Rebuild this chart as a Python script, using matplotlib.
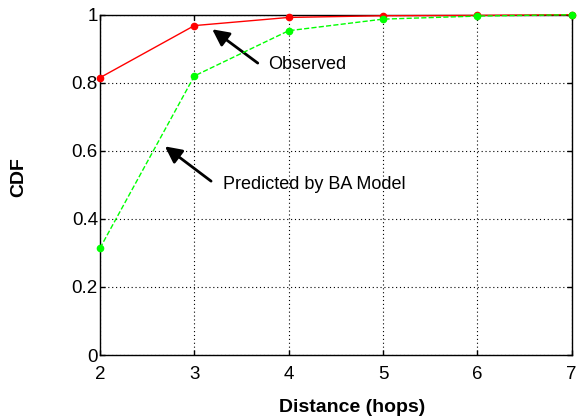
import matplotlib
matplotlib.use("Agg")
import matplotlib.pyplot as plt

plt.rcParams['font.family'] = ['Liberation Sans', 'DejaVu Sans']

hops = [2, 3, 4, 5, 6, 7]
observed = [0.815, 0.968, 0.992, 0.997, 0.998, 1.0]
predicted = [0.314, 0.820, 0.953, 0.987, 0.996, 1.0]
xticks = [2, 3, 4, 5, 6, 7]
yticks = [0, 0.2, 0.4, 0.6, 0.8, 1]
yticklabels = ['0', '0.2', '0.4', '0.6', '0.8', '1']

fig = plt.figure(figsize=(5.82, 4.18), dpi=100)
ax = fig.add_axes([0.1718, 0.1507, 0.8105, 0.8141])

ax.plot(hops, observed, '-', color='#ff0000', lw=1.0, marker='o', ms=4.5, mec='#ff0000', mfc='#ff0000', clip_on=False, zorder=3)
ax.plot(hops, predicted, '--', color='#00ff00', lw=1.0, marker='o', ms=4.5, mec='#00ff00', mfc='#00ff00', clip_on=False, zorder=4)

ax.set_xlim(2, 7)
ax.set_ylim(0, 1)
ax.set_xticks(xticks)
ax.set_yticks(yticks)
ax.set_yticklabels(yticklabels)
ax.grid(True, color='black', linestyle=(0, (1, 2.5)), lw=0.8)
ax.tick_params(direction='in', top=True, right=True, labelsize=13.5, length=3.6, width=1)
ax.tick_params(axis='x', pad=8)
ax.tick_params(axis='y', pad=1.5)
for s in ax.spines.values():
    s.set_linewidth(1.0)

fig.text(0.6057, 0.0251, 'Distance (hops)', fontsize=14, fontweight='bold', ha='center', va='center')
fig.text(0.0326, 0.5773, 'CDF', fontsize=14, fontweight='bold', ha='center', va='center', rotation=90)

ax.annotate('', xy=(3.166, 0.962), xytext=(3.696, 0.853),
            arrowprops=dict(arrowstyle='-|>,head_length=0.5,head_width=0.25', color='black', lw=2, mutation_scale=20))
ax.text(3.78, 0.853, 'Observed', fontsize=13, ha='left', va='center')
ax.annotate('', xy=(2.665, 0.618), xytext=(3.201, 0.506),
            arrowprops=dict(arrowstyle='-|>,head_length=0.5,head_width=0.25', color='black', lw=2, mutation_scale=20))
ax.text(3.30, 0.50, 'Predicted by BA Model', fontsize=13, ha='left', va='center')

fig.savefig('out.png', dpi=100)
